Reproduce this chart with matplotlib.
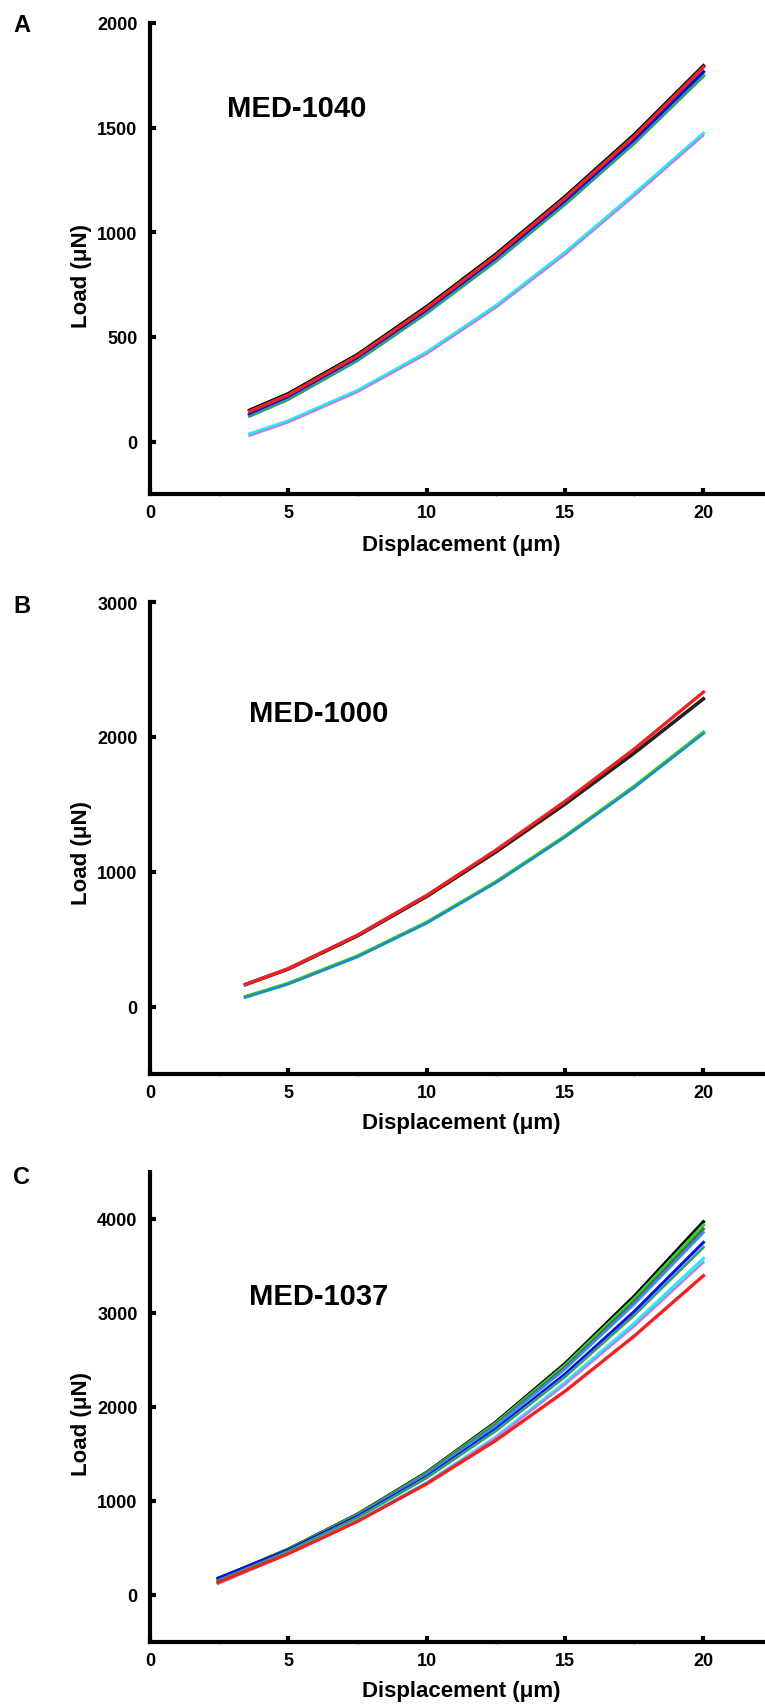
import matplotlib
matplotlib.use("Agg")
import matplotlib.pyplot as plt
from matplotlib.ticker import FixedLocator, MultipleLocator

plt.rcParams["font.family"] = ["Liberation Sans", "DejaVu Sans"]
plt.rcParams["font.weight"] = "bold"

# ---- data (displacement in um, load in uN) ----
# A: MED-1040
disp_a = [3.6, 5, 7.5, 10, 12.5, 15, 17.5, 20]
a_black = [150, 229, 416, 645, 895, 1170, 1466, 1795]
a_lime = [126, 205, 391, 617, 865, 1138, 1430, 1752]
a_blue = [130, 209, 396, 623, 872, 1146, 1440, 1767]
a_teal = [121, 201, 387, 613, 861, 1133, 1424, 1745]
a_red = [145, 224, 411, 639, 889, 1164, 1459, 1789]
a_cyan = [38, 100, 245, 428, 650, 905, 1185, 1474]
a_purple = [28, 92, 237, 419, 640, 894, 1174, 1463]

# B: MED-1000
disp_b = [3.45, 5, 7.5, 10, 12.5, 15, 17.5, 20]
b_black = [163, 279, 525, 817, 1147, 1502, 1880, 2282]
b_red = [165, 282, 530, 825, 1160, 1522, 1910, 2332]
b_lime = [72, 171, 373, 623, 923, 1262, 1631, 2032]
b_blue = [70, 168, 370, 620, 920, 1258, 1625, 2025]

# C: MED-1037
disp_c = [2.46, 5, 7.5, 10, 12.5, 15, 17.5, 20]
c_red = [135, 440, 783, 1183, 1645, 2168, 2755, 3397]
c_lavender = [120, 440, 787, 1190, 1672, 2241, 2860, 3539]
c_cyan = [125, 442, 790, 1195, 1680, 2262, 2891, 3581]
c_seagreen = [153, 465, 823, 1247, 1747, 2322, 2977, 3698]
c_blue = [180, 478, 835, 1258, 1766, 2350, 3016, 3751]
c_steel = [163, 479, 845, 1281, 1802, 2404, 3095, 3857]
c_gray = [165, 482, 850, 1289, 1814, 2422, 3121, 3893]
c_lime = [168, 485, 855, 1297, 1828, 2443, 3151, 3934]
c_black = [170, 488, 860, 1305, 1840, 2462, 3178, 3970]

W, H = 765, 1706
fig = plt.figure(figsize=(W / 100, H / 100), dpi=100)


def make_axes(top, bottom, ylim, yticks):
    left = 150
    ax = fig.add_axes([left / W, 1 - bottom / H, (W - left) / W, (bottom - top) / H])
    ax.set_xlim(0, (W - left) / 27.67)
    ax.set_ylim(*ylim)
    ax.spines[["top", "right"]].set_visible(False)
    for s in ("left", "bottom"):
        ax.spines[s].set_linewidth(3)
    ax.xaxis.set_major_locator(FixedLocator([0, 5, 10, 15, 20]))
    ax.xaxis.set_minor_locator(MultipleLocator(2.5))
    ax.yaxis.set_major_locator(FixedLocator(yticks))
    ax.tick_params(which="major", direction="in", length=4.5, width=3, labelsize=13)
    ax.tick_params(axis="x", which="major", pad=7.5)
    ax.tick_params(axis="y", which="major", pad=9)
    ax.tick_params(axis="x", which="minor", direction="out", length=1.5, width=1, color="0.5")
    return ax


def fig_text(x, y, s, **kw):
    fig.text(x / W, 1 - y / H, s, **kw)


# ---- panel A ----
ax = make_axes(24, 495, (-250, 2000), [0, 500, 1000, 1500, 2000])
ax.plot(disp_a, a_black, color="black", lw=2.6)
ax.plot(disp_a, a_lime, color="#22e022", lw=2.6)
ax.plot(disp_a, a_blue, color="#0010e0", lw=2.4)
ax.plot(disp_a, a_teal, color="#3a9a78", lw=2.0)
ax.plot(disp_a, a_red, color="#ee2222", lw=2.4)
ax.plot(disp_a, a_cyan, color="#20f0f0", lw=2.2)
ax.plot(disp_a, a_purple, color="#b784e0", lw=1.6)

# ---- panel B ----
ax = make_axes(603, 1075, (-500, 3000), [0, 1000, 2000, 3000])
ax.plot(disp_b, b_black, color="#222222", lw=2.6)
ax.plot(disp_b, b_red, color="#ee2222", lw=2.4)
ax.plot(disp_b, b_lime, color="#22e022", lw=2.8)
ax.plot(disp_b, b_blue, color="#2f7fd8", lw=1.8)

# ---- panel C ----
ax = make_axes(1173, 1643, (-500, 4500), [0, 1000, 2000, 3000, 4000])
ax.plot(disp_c, c_black, color="black", lw=2.4)
ax.plot(disp_c, c_lime, color="#22e022", lw=2.4)
ax.plot(disp_c, c_gray, color="#606060", lw=2.2)
ax.plot(disp_c, c_steel, color="#3a8ee6", lw=2.0)
ax.plot(disp_c, c_blue, color="#0010e8", lw=2.2)
ax.plot(disp_c, c_seagreen, color="#3c9a6e", lw=2.0)
ax.plot(disp_c, c_cyan, color="#20f0f0", lw=2.2)
ax.plot(disp_c, c_lavender, color="#b784e0", lw=1.8)
ax.plot(disp_c, c_red, color="#ee2222", lw=2.4)

# ---- text ----
for letter, y in (("A", 31.7), ("B", 613), ("C", 1184)):
    fig_text(13, y, letter, fontsize=17, va="baseline", ha="left")

for name, x, y in (("MED-1040", 227, 116.7), ("MED-1000", 249, 721.7), ("MED-1037", 249, 1305)):
    fig_text(x, y, name, fontsize=21, va="baseline", ha="left")

for y in (276, 853, 1424):
    fig_text(82, y, "Load (μN)", fontsize=16, rotation=90, ha="center", va="center")

for y in (545, 1124, 1692):
    fig_text(461, y, "Displacement (μm)", fontsize=16, ha="center", va="center")

fig.savefig("out.png", dpi=100)
